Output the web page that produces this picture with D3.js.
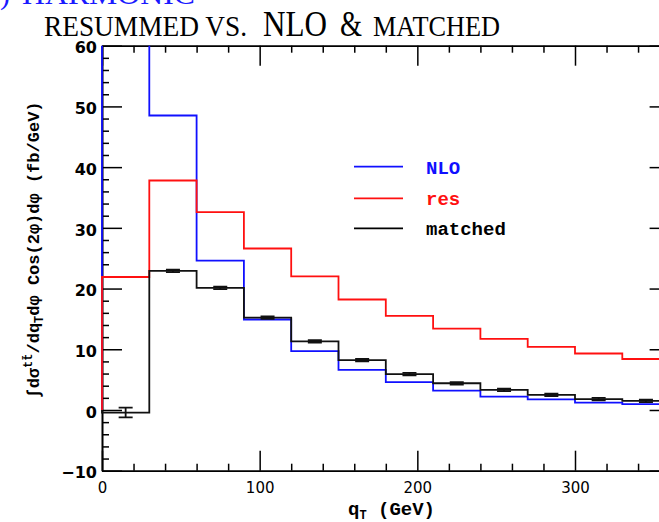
<!DOCTYPE html>
<html>
<head>
<meta charset="utf-8">
<script src="https://cdn.jsdelivr.net/npm/d3@7"></script>
<style>
  html, body { margin: 0; padding: 0; background: #fff; }
  svg { display: block; }
</style>
</head>
<body>
<svg id="chart" width="659" height="522"></svg>
<script>
// Bin edges in q_T (GeV); each histogram holds one value per 30 GeV bin.
const binEdges = [0, 30, 60, 90, 120, 150, 180, 210, 240, 270, 300, 330, 360];
const nloVals = [96, 48.5, 24.6, 14.9, 9.7, 6.6, 4.6, 3.2, 2.2, 1.75, 1.2, 0.95];
const resVals = [21.9, 37.8, 32.6, 26.6, 22.0, 18.2, 15.5, 13.4, 11.7, 10.4, 9.3, 8.4];
const matchedVals = [-0.42, 22.9, 20.1, 15.2, 11.3, 8.2, 5.9, 4.4, 3.3, 2.5, 1.8, 1.5];
const matchedErr = [0.8, 0.2, 0.2, 0.2, 0.2, 0.2, 0.2, 0.2, 0.2, 0.2, 0.2, 0.2];

const xMajorTicks = [0, 100, 200, 300];
const xMinorTicks = d3.range(0, 361, 20).filter(v => v % 100 !== 0);
const yMajorTicks = [-10, 0, 10, 20, 30, 40, 50, 60];
const yMinorTicks = d3.range(-10, 61, 2).filter(v => v % 10 !== 0);

const legendItems = [
  { label: "NLO", color: "#1010ff" },
  { label: "res", color: "#ff1010" },
  { label: "matched", color: "#000000" }
];
const seriesList = [
  { vals: nloVals, color: "#1010ff" },
  { vals: resVals, color: "#ff1010" },
  { vals: matchedVals, color: "#111111" }
];

const svg = d3.select("#chart");
const x = d3.scaleLinear().domain([0, 360]).range([102, 669.6]);
const y = d3.scaleLinear().domain([-10, 60]).range([470.7, 45.7]);

// Heading (partly above the page edge) and title
const serif = "'Liberation Serif', 'DejaVu Serif', serif";
svg.append("text").attr("x", 10).attr("y", 4).attr("text-anchor", "end")
  .attr("font-family", serif).attr("font-size", 30).attr("fill", "#1a1aff").text("COS(2φ)");
svg.append("text").attr("x", 22).attr("y", 4)
  .attr("font-family", serif).attr("font-size", 30).attr("fill", "#1a1aff")
  .attr("textLength", 173).attr("lengthAdjust", "spacingAndGlyphs").text("HARMONIC");

const titleParts = [
  { t: "RESUMMED VS.", x0: 44, x1: 247, size: 30 },
  { t: "NLO", x0: 263, x1: 327, size: 36 },
  { t: "&", x0: 340, x1: 362, size: 36 },
  { t: "MATCHED", x0: 373, x1: 500, size: 30 }
];
svg.selectAll("text.title").data(titleParts).join("text")
  .attr("class", "title")
  .attr("x", d => d.x0).attr("y", 36)
  .attr("font-family", serif).attr("font-size", d => d.size).attr("fill", "#000")
  .attr("textLength", d => d.x1 - d.x0).attr("lengthAdjust", "spacingAndGlyphs")
  .text(d => d.t);

// Axes: ticks point inward on all four sides
function styleAxis(g) {
  g.selectAll("path.domain").attr("stroke", "#000").attr("stroke-width", 1.6);
  g.selectAll(".tick line").attr("stroke", "#000").attr("stroke-width", 1.5);
}
const axisBox = svg.append("g");
// bottom
axisBox.append("g").attr("transform", `translate(0,${y(-10)})`)
  .call(d3.axisBottom(x).tickValues(xMinorTicks).tickFormat("").tickSizeInner(-7).tickSizeOuter(0)).call(styleAxis);
axisBox.append("g").attr("transform", `translate(0,${y(-10)})`)
  .call(d3.axisBottom(x).tickValues(xMajorTicks).tickSizeInner(-20).tickSizeOuter(0).tickPadding(12).tickFormat(d3.format("d")))
  .call(styleAxis)
  .call(g => g.selectAll("text").attr("font-family", "'DejaVu Sans', sans-serif").attr("font-size", 15).attr("fill", "#000"));
// top
axisBox.append("g").attr("transform", `translate(0,${y(60)})`)
  .call(d3.axisTop(x).tickValues(xMinorTicks).tickFormat("").tickSizeInner(-7).tickSizeOuter(0)).call(styleAxis);
axisBox.append("g").attr("transform", `translate(0,${y(60)})`)
  .call(d3.axisTop(x).tickValues(xMajorTicks).tickFormat("").tickSizeInner(-20).tickSizeOuter(0)).call(styleAxis);
// left
axisBox.append("g").attr("transform", `translate(${x(0)},0)`)
  .call(d3.axisLeft(y).tickValues(yMinorTicks).tickFormat("").tickSizeInner(-7).tickSizeOuter(0)).call(styleAxis);
axisBox.append("g").attr("transform", `translate(${x(0)},0)`)
  .call(d3.axisLeft(y).tickValues(yMajorTicks).tickSizeInner(-20).tickSizeOuter(0).tickPadding(5).tickFormat(d3.format("d")))
  .call(styleAxis)
  .call(g => g.selectAll("text").attr("font-family", "'DejaVu Sans', sans-serif").attr("font-weight", "bold")
    .attr("font-size", 16).attr("dy", "0.45em").attr("fill", "#000"));
// right
axisBox.append("g").attr("transform", `translate(${x(360)},0)`)
  .call(d3.axisRight(y).tickValues(yMinorTicks).tickFormat("").tickSizeInner(-7).tickSizeOuter(0)).call(styleAxis);
axisBox.append("g").attr("transform", `translate(${x(360)},0)`)
  .call(d3.axisRight(y).tickValues(yMajorTicks).tickFormat("").tickSizeInner(-20).tickSizeOuter(0)).call(styleAxis);

// Histograms, clipped to the frame
svg.append("clipPath").attr("id", "plotClip").append("rect")
  .attr("x", x(0) - 2).attr("y", y(60)).attr("width", x(360) - x(0) + 4).attr("height", y(-10) - y(60));

function stepPoints(vals) {
  const pts = [[binEdges[0], 0]];
  vals.forEach((v, i) => { pts.push([binEdges[i], v]); pts.push([binEdges[i + 1], v]); });
  pts.push([binEdges[binEdges.length - 1], 0]);
  return pts;
}
const line = d3.line().x(d => x(d[0])).y(d => y(d[1]));
const plot = svg.append("g").attr("clip-path", "url(#plotClip)");
seriesList.forEach(s => {
  plot.append("path").attr("d", line(stepPoints(s.vals)))
    .attr("fill", "none").attr("stroke", s.color).attr("stroke-width", 1.8)
    .attr("stroke-linejoin", "miter");
});

// Error bars on the matched curve
const centers = matchedVals.map((v, i) => ({ xc: (binEdges[i] + binEdges[i + 1]) / 2, v, e: matchedErr[i] }));
const eb = plot.append("g").attr("stroke", "#111").attr("stroke-width", 1.8);
centers.forEach(d => {
  eb.append("line").attr("x1", x(d.xc)).attr("x2", x(d.xc)).attr("y1", y(d.v - d.e)).attr("y2", y(d.v + d.e));
  [d.v - d.e, d.v + d.e].forEach(c => {
    eb.append("line").attr("x1", x(d.xc) - 7).attr("x2", x(d.xc) + 7).attr("y1", y(c)).attr("y2", y(c));
  });
});

// Legend
const mono = "'Liberation Mono', 'DejaVu Sans Mono', monospace";
const leg = svg.append("g");
legendItems.forEach((d, i) => {
  const ly = [166.7, 198.3, 228.3][i];
  leg.append("line").attr("x1", 354).attr("x2", 403).attr("y1", ly).attr("y2", ly)
    .attr("stroke", d.color).attr("stroke-width", 1.8);
  leg.append("text").attr("x", 426).attr("y", ly + 7).attr("font-family", mono).attr("font-weight", "bold")
    .attr("font-size", 19).attr("fill", d.color).text(d.label);
});

// Axis titles
const xt = svg.append("text").attr("x", 348).attr("y", 515).attr("font-family", mono)
  .attr("font-weight", "bold").attr("font-size", 19).attr("fill", "#000");
xt.append("tspan").text("q");
xt.append("tspan").attr("font-size", 12).attr("dy", 4).text("T");
xt.append("tspan").attr("dy", -4).text(" (GeV)");

const yt = svg.append("text").attr("transform", "translate(39,250) rotate(-90)")
  .attr("text-anchor", "middle").attr("font-family", mono).attr("font-weight", "bold")
  .attr("font-size", 17).attr("fill", "#000");
yt.append("tspan").text("∫dσ");
yt.append("tspan").attr("font-size", 12).attr("dy", -7).text("tt\u0304");
yt.append("tspan").attr("dy", 7).text("/dq");
yt.append("tspan").attr("font-size", 12).attr("dy", 4).text("T");
yt.append("tspan").attr("dy", -4).text("dφ Cos(2φ)dφ (fb/GeV)");
</script>
</body>
</html>
